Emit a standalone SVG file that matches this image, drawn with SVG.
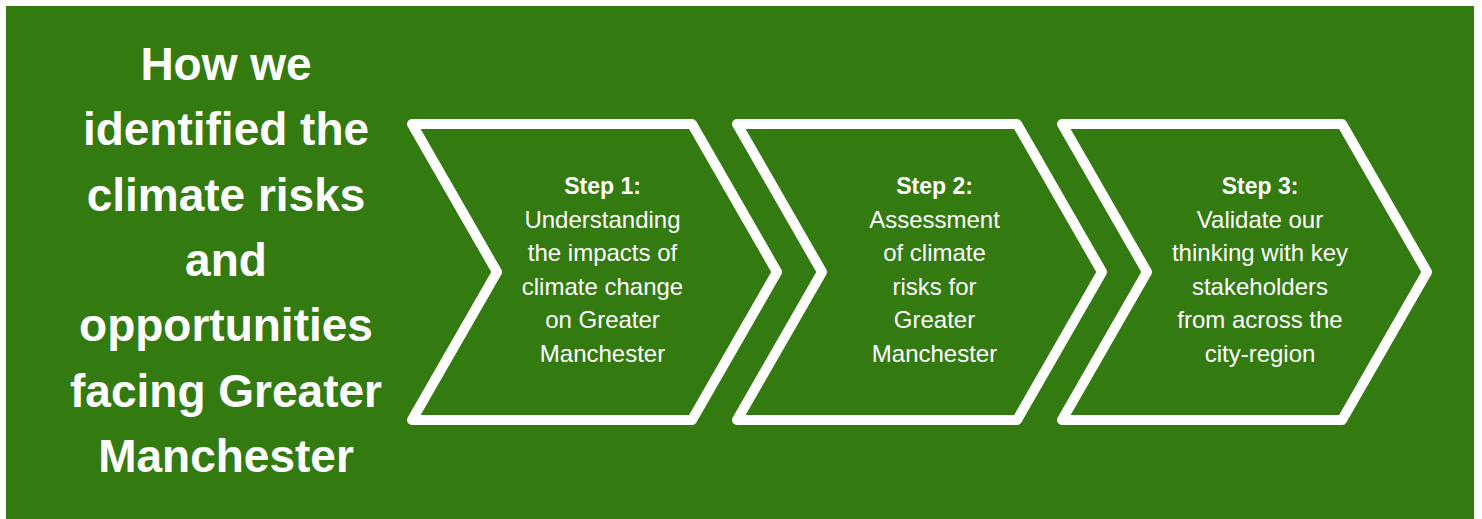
<svg xmlns="http://www.w3.org/2000/svg" width="1482" height="519" viewBox="0 0 1482 519">
<style>
.bg{fill:#337a11}
.chev{fill:none;stroke:#ffffff;stroke-width:10;stroke-linejoin:round}
.title{font-family:"Liberation Sans",Arial,sans-serif;font-weight:bold;font-size:46px;fill:#ffffff;text-anchor:middle}
.step{font-family:"Liberation Sans",Arial,sans-serif;font-size:24px;fill:#ffffff;text-anchor:middle}
.b{font-weight:bold;font-size:23px}
</style>
<defs>
<path id="chevron" d="M412,124 L692,124 L777,272 L692,420 L412,420 L497,272 Z"/>
</defs>
<rect x="0" y="0" width="1482" height="519" fill="#ffffff"/>
<rect class="bg" x="6" y="6" width="1468" height="513"/>
<g id="title">
<text class="title" x="226" y="80">How we</text>
<text class="title" x="226" y="145.3">identified the</text>
<text class="title" x="226" y="210.6">climate risks</text>
<text class="title" x="226" y="275.9">and</text>
<text class="title" x="226" y="341.2">opportunities</text>
<text class="title" x="226" y="406.5">facing Greater</text>
<text class="title" x="226" y="471.8">Manchester</text>
</g>
<g id="step1">
<use href="#chevron" class="chev"/>
<text class="step b" x="602.5" y="194">Step 1:</text>
<text class="step" x="602.5" y="227.6">Understanding</text>
<text class="step" x="602.5" y="261.2">the impacts of</text>
<text class="step" x="602.5" y="294.8">climate change</text>
<text class="step" x="602.5" y="328.4">on Greater</text>
<text class="step" x="602.5" y="362">Manchester</text>
</g>
<g id="step2">
<use href="#chevron" class="chev" transform="translate(325,0)"/>
<text class="step b" x="934.5" y="194">Step 2:</text>
<text class="step" x="934.5" y="227.6">Assessment</text>
<text class="step" x="934.5" y="261.2">of climate</text>
<text class="step" x="934.5" y="294.8">risks for</text>
<text class="step" x="934.5" y="328.4">Greater</text>
<text class="step" x="934.5" y="362">Manchester</text>
</g>
<g id="step3">
<use href="#chevron" class="chev" transform="translate(650,0)"/>
<text class="step b" x="1260" y="194">Step 3:</text>
<text class="step" x="1260" y="227.6">Validate our</text>
<text class="step" x="1260" y="261.2">thinking with key</text>
<text class="step" x="1260" y="294.8">stakeholders</text>
<text class="step" x="1260" y="328.4">from across the</text>
<text class="step" x="1260" y="362">city-region</text>
</g>
<g id="connectors"></g>
</svg>
